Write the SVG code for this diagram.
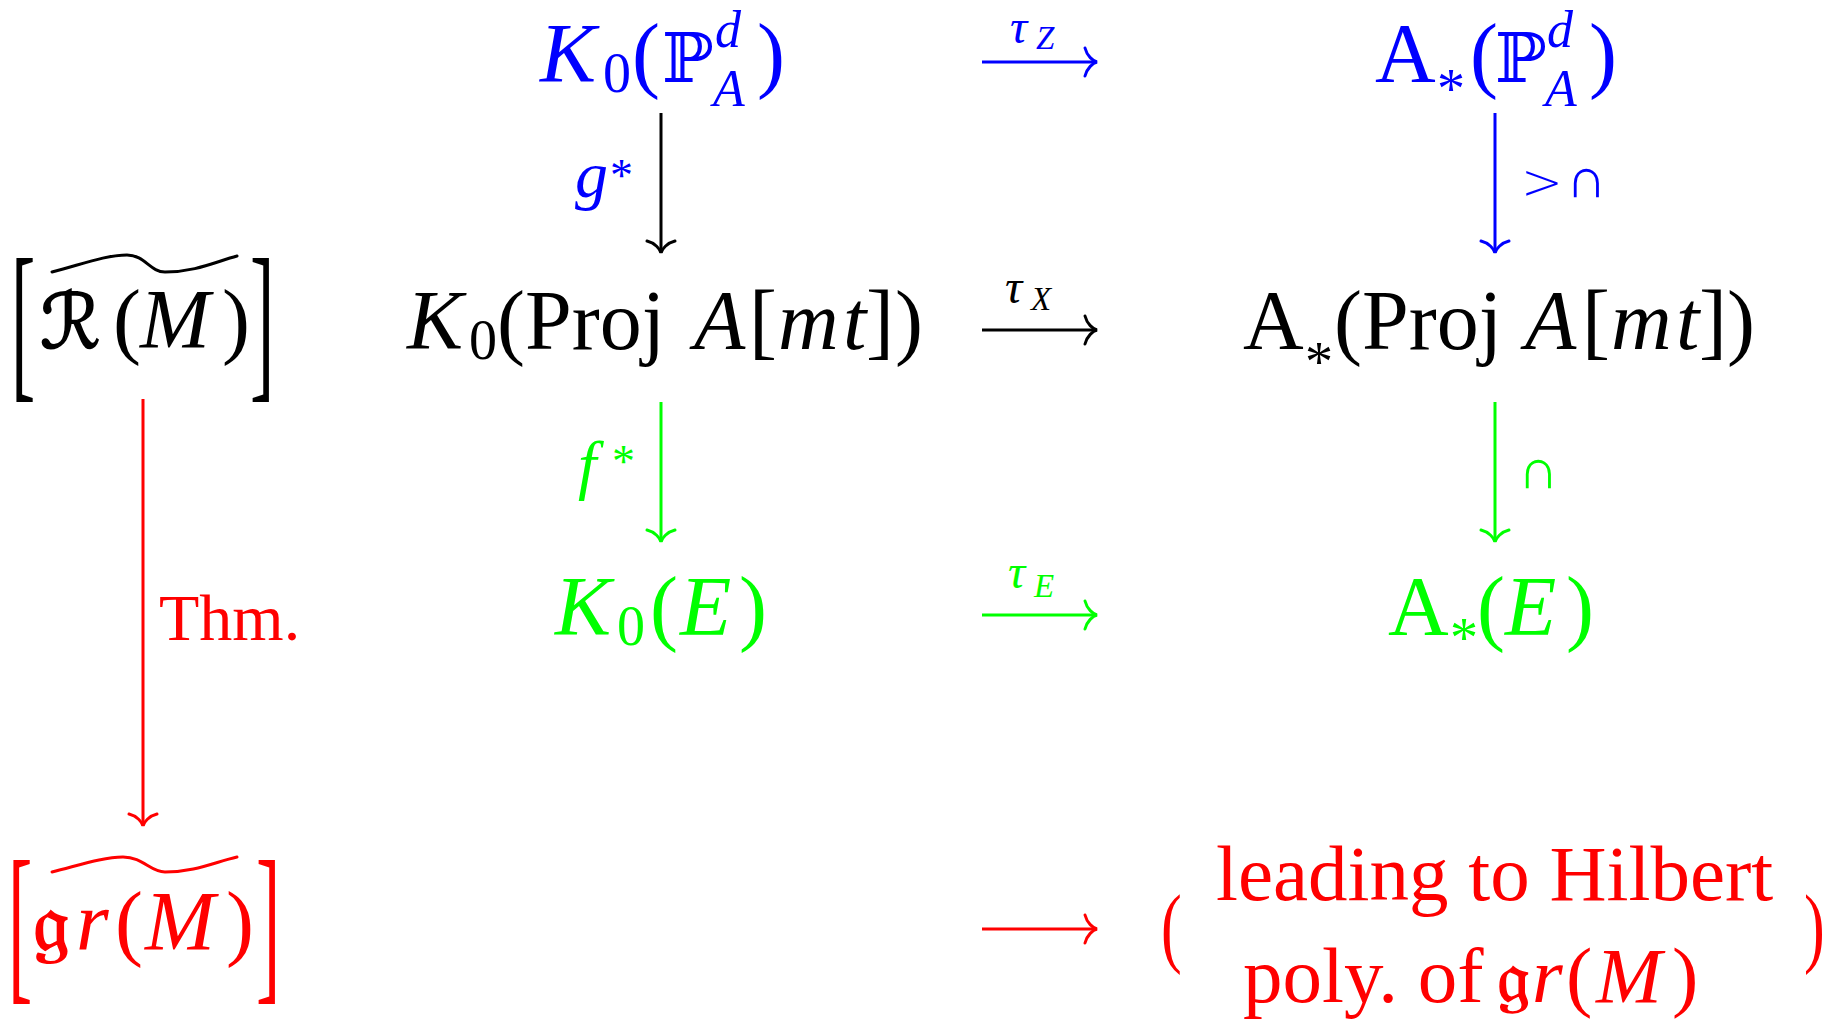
<svg xmlns="http://www.w3.org/2000/svg" width="1825" height="1022" viewBox="0 0 1825 1022">
<style>
.m{font-family:"Liberation Serif","Times New Roman",serif;}
.it{font-style:italic}
.b{fill:#0000ff}.k{fill:#000000}.g{fill:#00ff00}.r{fill:#ff0000}
.big{font-size:84px}
.sub{font-size:56px}
.sc{font-size:52px}
.tau{font-size:48px}
.ss{font-size:33px}
.ds{font-family:"DejaVu Serif","DejaVu Sans",serif}
.fr{font-family:"DejaVu Serif","DejaVu Sans","Noto Sans",serif}
.sans{font-family:"DejaVu Sans",sans-serif;font-weight:200}
.ln{fill:none;stroke-width:3}
.tl{fill:none;stroke-width:3;stroke-linecap:round}
</style>
<defs>
<marker id="ah-k" viewBox="-14 -16 16 32" refX="0" refY="0" markerWidth="16" markerHeight="32" markerUnits="userSpaceOnUse" orient="auto"><path d="M-12,-14 C-10,-6 -4,-1 0,0 C-4,1 -10,6 -12,14" fill="none" stroke="#000000" stroke-width="3" stroke-linecap="round"/></marker>
<marker id="ah-b" viewBox="-14 -16 16 32" refX="0" refY="0" markerWidth="16" markerHeight="32" markerUnits="userSpaceOnUse" orient="auto"><path d="M-12,-14 C-10,-6 -4,-1 0,0 C-4,1 -10,6 -12,14" fill="none" stroke="#0000ff" stroke-width="3" stroke-linecap="round"/></marker>
<marker id="ah-g" viewBox="-14 -16 16 32" refX="0" refY="0" markerWidth="16" markerHeight="32" markerUnits="userSpaceOnUse" orient="auto"><path d="M-12,-14 C-10,-6 -4,-1 0,0 C-4,1 -10,6 -12,14" fill="none" stroke="#00ff00" stroke-width="3" stroke-linecap="round"/></marker>
<marker id="ah-r" viewBox="-14 -16 16 32" refX="0" refY="0" markerWidth="16" markerHeight="32" markerUnits="userSpaceOnUse" orient="auto"><path d="M-12,-14 C-10,-6 -4,-1 0,0 C-4,1 -10,6 -12,14" fill="none" stroke="#ff0000" stroke-width="3" stroke-linecap="round"/></marker>
</defs>
<rect width="1825" height="1022" fill="#ffffff"/>

<g id="node-K0-P">
<text class="m b"><tspan class="it big" x="540" y="82">K</tspan><tspan class="sub" x="603" y="92">0</tspan><tspan class="big" x="632" y="82">(</tspan><tspan class="ds" font-size="69" x="662" y="82">ℙ</tspan><tspan class="it sc" x="715" y="47">d</tspan><tspan class="it sc" x="713" y="106">A</tspan><tspan class="big" x="757" y="82">)</tspan></text>
</g>

<g id="node-A-P">
<text class="m b"><tspan class="big" x="1375" y="82">A</tspan><tspan class="sub" x="1437" y="108">*</tspan><tspan class="big" x="1470" y="82">(</tspan><tspan class="ds" font-size="69" x="1495" y="82">ℙ</tspan><tspan class="it sc" x="1547" y="47">d</tspan><tspan class="it sc" x="1545" y="106">A</tspan><tspan class="big" x="1589" y="82">)</tspan></text>
</g>

<g id="node-RM">
<text class="m k" font-size="174" transform="translate(11,379) scale(0.42,1)">[</text>
<path class="tl" stroke="#000000" d="M52,272 C80,265 105,255 127,255 C145,255 150,272 165,272 C195,272 215,262 237,256"/>
<text class="m k big"><tspan class="ds" font-size="76" stroke="#000000" stroke-width="1.6" x="40" y="348">ℛ</tspan><tspan x="113" y="348">(</tspan><tspan class="it" x="140" y="348">M</tspan><tspan x="222" y="348">)</tspan></text>
<text class="m k" font-size="174" transform="translate(250,379) scale(0.42,1)">]</text>
</g>

<g id="node-K0-Proj">
<text class="m k"><tspan class="it big" x="407" y="349">K</tspan><tspan class="sub" x="469" y="359">0</tspan><tspan class="big" x="497" y="349">(Proj</tspan><tspan class="it big" x="694" y="349">A</tspan><tspan class="big" x="749" y="349">[</tspan><tspan class="it big" x="778" y="349">m</tspan><tspan class="it big" x="843" y="349">t</tspan><tspan class="big" x="866" y="349">]</tspan><tspan class="big" x="895" y="349">)</tspan></text>
</g>

<g id="node-A-Proj">
<text class="m k"><tspan class="big" x="1243" y="349">A</tspan><tspan class="sub" x="1305" y="381">*</tspan><tspan class="big" x="1334" y="349">(Proj</tspan><tspan class="it big" x="1525" y="349">A</tspan><tspan class="big" x="1582" y="349">[</tspan><tspan class="it big" x="1611" y="349">m</tspan><tspan class="it big" x="1676" y="349">t</tspan><tspan class="big" x="1699" y="349">]</tspan><tspan class="big" x="1727" y="349">)</tspan></text>
</g>

<g id="node-K0-E">
<text class="m g"><tspan class="it big" x="555" y="635">K</tspan><tspan class="sub" x="617" y="645">0</tspan><tspan class="big" x="650" y="635">(</tspan><tspan class="it big" x="680" y="635">E</tspan><tspan class="big" x="739" y="635">)</tspan></text>
</g>

<g id="node-A-E">
<text class="m g"><tspan class="big" x="1388" y="635">A</tspan><tspan class="sub" x="1450" y="657">*</tspan><tspan class="big" x="1477" y="635">(</tspan><tspan class="it big" x="1505" y="635">E</tspan><tspan class="big" x="1566" y="635">)</tspan></text>
</g>

<g id="node-grM">
<text class="m r" font-size="174" transform="translate(8,981) scale(0.42,1)">[</text>
<path class="tl" stroke="#ff0000" d="M52,872 C80,865 103,857 123,857 C143,857 150,872 165,872 C195,872 215,862 237,857"/>
<text class="m r big"><tspan class="fr" font-size="82" stroke="#ff0000" stroke-width="1.8" x="33" y="950">𝔤</tspan><tspan class="it" x="76" y="950">r</tspan><tspan x="115" y="950">(</tspan><tspan class="it" x="145" y="950">M</tspan><tspan x="226" y="950">)</tspan></text>
<text class="m r" font-size="174" transform="translate(256,981) scale(0.42,1)">]</text>
</g>

<g id="node-hilbert">
<text class="m r" font-size="89" transform="translate(1161,956) scale(0.7,1)">(</text>
<text class="m r" font-size="79" x="1216" y="900">leading to Hilbert</text>
<text class="m r" font-size="79"><tspan x="1243" y="1002">poly. of</tspan><tspan class="fr" font-size="74" stroke="#ff0000" stroke-width="1.5" x="1497" y="1002">𝔤</tspan><tspan class="it" x="1532" y="1002">r</tspan><tspan x="1566" y="1002">(</tspan><tspan class="it" x="1596" y="1002">M</tspan><tspan x="1672" y="1002">)</tspan></text>
<text class="m r" font-size="89" transform="translate(1804,956) scale(0.7,1)">)</text>
</g>

<g id="connectors">
<line class="ln" stroke="#0000ff" x1="982" y1="62" x2="1097" y2="62" marker-end="url(#ah-b)"/>
<text class="m b"><tspan class="it tau" x="1010" y="43">τ</tspan><tspan class="it ss" x="1036" y="49">Z</tspan></text>

<line class="ln" stroke="#000000" x1="982" y1="330" x2="1097" y2="330" marker-end="url(#ah-k)"/>
<text class="m k"><tspan class="it tau" x="1005" y="303">τ</tspan><tspan class="it ss" x="1031" y="310">X</tspan></text>

<line class="ln" stroke="#00ff00" x1="982" y1="615" x2="1097" y2="615" marker-end="url(#ah-g)"/>
<text class="m g"><tspan class="it tau" x="1008" y="588">τ</tspan><tspan class="it ss" x="1034" y="597">E</tspan></text>

<line class="ln" stroke="#ff0000" x1="982" y1="929" x2="1097" y2="929" marker-end="url(#ah-r)"/>

<line class="ln" stroke="#000000" x1="661" y1="113" x2="661" y2="253" marker-end="url(#ah-k)"/>
<text class="m b"><tspan class="it" font-size="66" x="575" y="197">g</tspan><tspan font-size="46" x="610" y="191">*</tspan></text>

<line class="ln" stroke="#0000ff" x1="1495" y1="113" x2="1495" y2="253" marker-end="url(#ah-b)"/>
<text class="sans b"><tspan font-size="50" x="1521" y="199">&gt;</tspan><tspan font-size="56" x="1566" y="197">∩</tspan></text>

<line class="ln" stroke="#00ff00" x1="661" y1="402" x2="661" y2="542" marker-end="url(#ah-g)"/>
<text class="m g"><tspan class="it" font-size="66" x="578" y="487">f</tspan><tspan font-size="46" x="612" y="477">*</tspan></text>

<line class="ln" stroke="#00ff00" x1="1495" y1="402" x2="1495" y2="542" marker-end="url(#ah-g)"/>
<text class="sans g" font-size="56" x="1518" y="488">∩</text>

<line class="ln" stroke="#ff0000" x1="143" y1="399" x2="143" y2="826" marker-end="url(#ah-r)"/>
<text class="m r" font-size="66" x="159" y="640">Thm.</text>
</g>
</svg>
